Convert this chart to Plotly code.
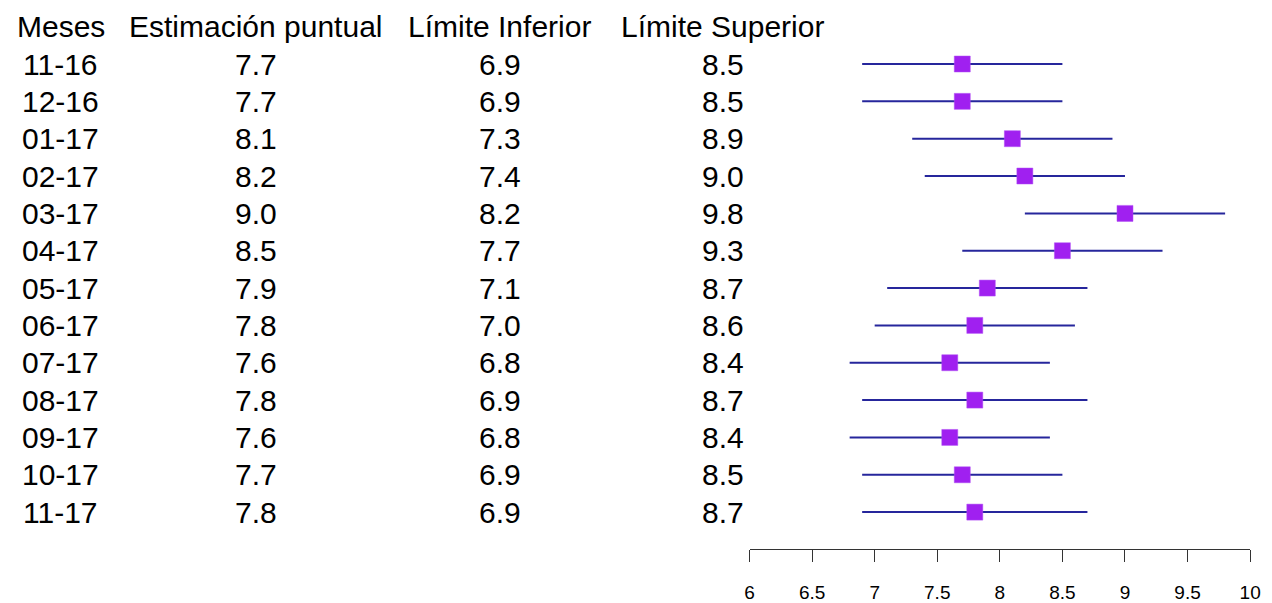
import plotly.graph_objects as go

meses = ["11-16", "12-16", "01-17", "02-17", "03-17", "04-17", "05-17",
         "06-17", "07-17", "08-17", "09-17", "10-17", "11-17"]
estimacion = [7.7, 7.7, 8.1, 8.2, 9.0, 8.5, 7.9, 7.8, 7.6, 7.8, 7.6, 7.7, 7.8]
limite_inf = [6.9, 6.9, 7.3, 7.4, 8.2, 7.7, 7.1, 7.0, 6.8, 6.9, 6.8, 6.9, 6.9]
limite_sup = [8.5, 8.5, 8.9, 9.0, 9.8, 9.3, 8.7, 8.6, 8.4, 8.7, 8.4, 8.5, 8.7]
headers = ["Meses", "Estimación puntual", "Límite Inferior", "Límite Superior"]
tick_vals = [6, 6.5, 7, 7.5, 8, 8.5, 9, 9.5, 10]
tick_text = ["6", "6.5", "7", "7.5", "8", "8.5", "9", "9.5", "10"]

W, H = 1272, 603
rows = list(range(len(meses)))

fig = go.Figure()
fig.add_trace(go.Scatter(
    x=estimacion, y=rows, mode="markers",
    marker=dict(symbol="square", size=16, color="#A020F0",
                line=dict(color="#B050F5", width=0.5)),
    error_x=dict(type="data", symmetric=False,
                 array=[u - e for u, e in zip(limite_sup, estimacion)],
                 arrayminus=[e - l for e, l in zip(estimacion, limite_inf)],
                 width=0, thickness=2, color="#26269C"),
    showlegend=False, hoverinfo="skip",
))

font = dict(family="Liberation Sans, Arial, sans-serif", size=30, color="black")
col_x = [56.5, 254, 501, 727]
annotations = []
for cx, h in zip(col_x, headers):
    annotations.append(dict(x=cx / W, xref="paper", y=-1, yref="y", text=h,
                            showarrow=False, xanchor="center", yanchor="middle",
                            font=font))
columns = [meses,
           [f"{v:.1f}" for v in estimacion],
           [f"{v:.1f}" for v in limite_inf],
           [f"{v:.1f}" for v in limite_sup]]
for cx, col in zip(col_x, columns):
    for r, t in zip(rows, col):
        annotations.append(dict(x=cx / W, xref="paper", y=r, yref="y", text=t,
                                showarrow=False, xanchor="center", yanchor="middle",
                                font=font))

px_per_row = 37.92
top_val = -65 / px_per_row
bot_val = (557.5 - 65) / px_per_row

fig.update_layout(
    width=W, height=H,
    margin=dict(l=0, r=0, t=0, b=H - 557.5, pad=0),
    paper_bgcolor="white", plot_bgcolor="white",
    annotations=annotations,
    xaxis=dict(domain=[754 / W, 1261 / W], range=[6, 10],
               showline=True, linecolor="#333333", linewidth=1.3,
               ticks="outside", ticklen=12, tickwidth=1.3, tickcolor="#333333",
               tickvals=tick_vals, ticktext=tick_text,
               tickfont=dict(family="Liberation Sans, Arial, sans-serif", size=19, color="black"),
               ticklabelstandoff=14, ticklabeloverflow="allow",
               showgrid=False, zeroline=False, fixedrange=True),
    yaxis=dict(range=[bot_val, top_val], visible=False, showgrid=False,
               zeroline=False, fixedrange=True),
)

fig.write_html("out.html",
               post_script="document.body.style.margin='0';document.body.style.overflow='hidden';",
               config={"displayModeBar": False})
